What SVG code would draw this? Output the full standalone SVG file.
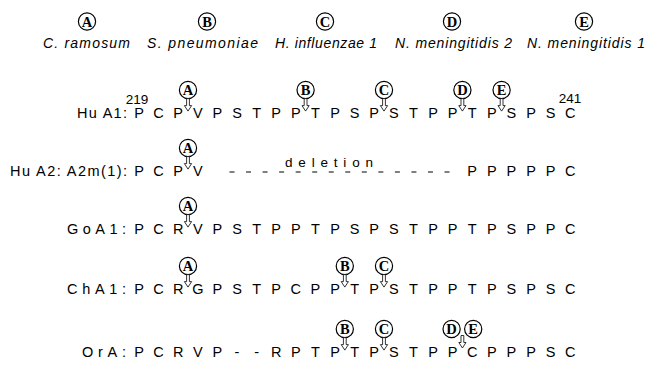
<svg xmlns="http://www.w3.org/2000/svg" xmlns:xlink="http://www.w3.org/1999/xlink" width="648" height="365" viewBox="0 0 648 365">
  <style>
    .bg { fill: #ffffff; }
    .site circle { fill: #ffffff; stroke: #000000; stroke-width: 1.2; }
    .site text { font-family: "Liberation Serif", "Times New Roman", serif; font-weight: bold; font-size: 14.5px; text-anchor: middle; fill: #000000; }
    .org { font-family: "Liberation Sans", Arial, sans-serif; font-style: italic; font-size: 14px; fill: #000000; }
    .lbl { font-family: "Liberation Sans", Arial, sans-serif; font-size: 14.5px; fill: #000000; }
    .seq { font-family: "Liberation Sans", Arial, sans-serif; font-size: 14.5px; text-anchor: middle; fill: #000000; }
    .num { font-family: "Liberation Sans", Arial, sans-serif; font-size: 13.5px; text-anchor: middle; fill: #000000; }
    .del { font-family: "Liberation Sans", Arial, sans-serif; font-size: 13.5px; fill: #000000; }
    .arrow { fill: #ffffff; stroke: #000000; stroke-width: 0.8; stroke-linejoin: miter; }
    .gap { stroke: #000000; stroke-width: 1.2; stroke-dasharray: 5 11.54; fill: none; }
  </style>
  <defs>
    <!-- hollow cleavage arrow, origin at its tail -->
    <path id="arr" class="arrow" d="M-1.4,0 V7 H-3.6 L0,12.5 L3.6,7 H1.4 V0 Z"/>
  </defs>

  <rect class="bg" x="0" y="0" width="648" height="365"/>

  <!-- legend: cleavage sites and the enzymes' sources -->
  <g id="legend-A" class="site"><circle cx="87" cy="21.5" r="8.6"/><text x="87" y="26.5">A</text></g>
  <g id="legend-B" class="site"><circle cx="207" cy="21.5" r="8.6"/><text x="207" y="26.5">B</text></g>
  <g id="legend-C" class="site"><circle cx="325" cy="21.5" r="8.6"/><text x="325" y="26.5">C</text></g>
  <g id="legend-D" class="site"><circle cx="452" cy="21.5" r="8.6"/><text x="452" y="26.5">D</text></g>
  <g id="legend-E" class="site"><circle cx="584" cy="21.5" r="8.6"/><text x="584" y="26.5">E</text></g>
  <g id="legend-labels">
    <text class="org" x="43" y="47.5" textLength="87" lengthAdjust="spacing">C. ramosum</text>
    <text class="org" x="147" y="47.5" textLength="111" lengthAdjust="spacing">S. pneumoniae</text>
    <text class="org" x="275" y="47.5" textLength="102" lengthAdjust="spacing">H. influenzae 1</text>
    <text class="org" x="395" y="47.5" textLength="117" lengthAdjust="spacing">N. meningitidis 2</text>
    <text class="org" x="527" y="47.5" textLength="118" lengthAdjust="spacing">N. meningitidis 1</text>
  </g>

  <!-- Hu A1 hinge, residues 219-241 -->
  <g id="row-HuA1">
    <text class="lbl" x="77" y="118" textLength="50" lengthAdjust="spacing">Hu A1:</text>
    <text class="num" x="137" y="104">219</text>
    <text class="num" x="570" y="103">241</text>
    <text class="seq" y="118" x="139 158.6 178.2 197.8 217.4 237 256.6 276.2 295.8 315.4 335 354.6 374.2 393.8 413.4 433 452.6 472.2 491.8 511.4 531 550.6 570.2">PCPVPSTPPTPSPSTPPTPSPSC</text>
  </g>

  <!-- Hu A2 A2m(1) hinge with its deletion -->
  <g id="row-HuA2">
    <text class="lbl" x="10" y="176" textLength="117" lengthAdjust="spacing">Hu A2: A2m(1):</text>
    <text class="seq" y="176" x="139 158.6 178.2 197.8">PCPV</text>
    <line class="gap" x1="229.5" y1="172" x2="450" y2="172"/>
    <text class="del" x="285" y="167" textLength="88" lengthAdjust="spacing">deletion</text>
    <text class="seq" y="176" x="472.2 491.8 511.4 531 550.6 570.2">PPPPPC</text>
  </g>

  <!-- Go A1 hinge -->
  <g id="row-GoA1">
    <text class="lbl" x="67" y="234" textLength="59" lengthAdjust="spacing">GoA1:</text>
    <text class="seq" y="234" x="139 158.6 178.2 197.8 217.4 237 256.6 276.2 295.8 315.4 335 354.6 374.2 393.8 413.4 433 452.6 472.2 491.8 511.4 531 550.6 570.2">PCRVPSTPPTPSPSTPPTPSPPC</text>
  </g>

  <!-- Ch A1 hinge -->
  <g id="row-ChA1">
    <text class="lbl" x="67" y="294" textLength="59" lengthAdjust="spacing">ChA1:</text>
    <text class="seq" y="294" x="139 158.6 178.2 197.8 217.4 237 256.6 276.2 295.8 315.4 335 354.6 374.2 393.8 413.4 433 452.6 472.2 491.8 511.4 531 550.6 570.2">PCRGPSTPCPPTPSTPPTPSPSC</text>
  </g>

  <!-- Or A hinge -->
  <g id="row-OrA">
    <text class="lbl" x="82" y="357" textLength="44" lengthAdjust="spacing">OrA:</text>
    <text class="seq" y="357" x="139 158.6 178.2 197.8 217.4 237 256.6 276.2 295.8 315.4 335 354.6 374.2 393.8 413.4 433 452.6 472.2 491.8 511.4 531 550.6 570.2">PCRVP--RPTPTPSTPPCPPPSC</text>
  </g>

  <!-- cleavage site markers on each hinge -->
  <g id="sites-HuA1" class="site">
    <circle cx="188" cy="90" r="8.6"/><text x="188" y="95">A</text>
    <circle cx="305.6" cy="90" r="8.6"/><text x="305.6" y="95">B</text>
    <circle cx="384" cy="90" r="8.6"/><text x="384" y="95">C</text>
    <circle cx="462.4" cy="90" r="8.6"/><text x="462.4" y="95">D</text>
    <circle cx="501.6" cy="90" r="8.6"/><text x="501.6" y="95">E</text>
  </g>
  <g id="sites-HuA2" class="site">
    <circle cx="188" cy="148" r="8.6"/><text x="188" y="153">A</text>
  </g>
  <g id="sites-GoA1" class="site">
    <circle cx="188" cy="206" r="8.6"/><text x="188" y="211">A</text>
  </g>
  <g id="sites-ChA1" class="site">
    <circle cx="188" cy="266" r="8.6"/><text x="188" y="271">A</text>
    <circle cx="344.8" cy="266" r="8.6"/><text x="344.8" y="271">B</text>
    <circle cx="384" cy="266" r="8.6"/><text x="384" y="271">C</text>
  </g>
  <g id="sites-OrA" class="site">
    <circle cx="344.8" cy="329" r="8.6"/><text x="344.8" y="334">B</text>
    <circle cx="384" cy="329" r="8.6"/><text x="384" y="334">C</text>
    <circle cx="451.6" cy="329" r="8.6"/><text x="451.6" y="334">D</text>
    <circle cx="473.2" cy="329" r="8.6"/><text x="473.2" y="334">E</text>
  </g>

  <!-- connectors: arrows from each site down to the cleaved bond -->
  <g id="connectors">
    <use xlink:href="#arr" x="188" y="98.6"/>
    <use xlink:href="#arr" x="305.6" y="98.6"/>
    <use xlink:href="#arr" x="384" y="98.6"/>
    <use xlink:href="#arr" x="462.4" y="98.6"/>
    <use xlink:href="#arr" x="501.6" y="98.6"/>
    <use xlink:href="#arr" x="188" y="156.6"/>
    <use xlink:href="#arr" x="188" y="214.6"/>
    <use xlink:href="#arr" x="188" y="274.6"/>
    <use xlink:href="#arr" x="344.8" y="274.6"/>
    <use xlink:href="#arr" x="384" y="274.6"/>
    <use xlink:href="#arr" x="344.8" y="337.6"/>
    <use xlink:href="#arr" x="384" y="337.6"/>
    <use xlink:href="#arr" x="462.4" y="335.5"/>
  </g>
</svg>
